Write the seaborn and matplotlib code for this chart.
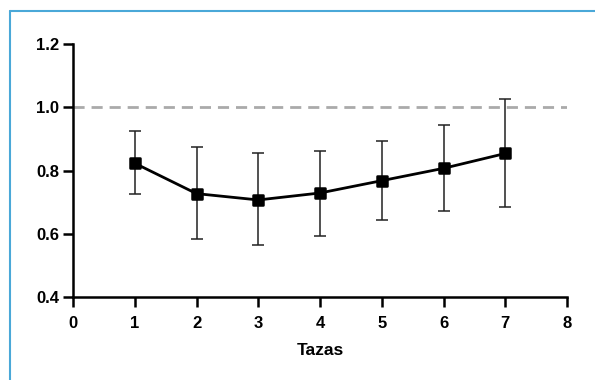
import numpy as np
import pandas as pd
import matplotlib
matplotlib.use("Agg")
import matplotlib.pyplot as plt
import seaborn as sns
from matplotlib.lines import Line2D
from matplotlib.markers import MarkerStyle

# Datos
tazas = [1, 2, 3, 4, 5, 6, 7]
media = [0.823, 0.727, 0.707, 0.729, 0.768, 0.807, 0.854]
err_sup = [0.925, 0.874, 0.855, 0.863, 0.894, 0.943, 1.025]
err_inf = [0.725, 0.584, 0.564, 0.594, 0.644, 0.673, 0.686]
referencia = 1.0
x_ticks = [0, 1, 2, 3, 4, 5, 6, 7, 8]
y_ticks = [0.4, 0.6, 0.8, 1.0, 1.2]

sns.set_theme(style="ticks")
plt.rcParams["font.family"] = ["Liberation Sans", "DejaVu Sans"]

df = pd.DataFrame({"Tazas": tazas, "Media": media})

fig = plt.figure(figsize=(5.95, 3.8), dpi=100)
ax = fig.add_axes([0.1227, 0.2184, 0.8303, 0.6656])

# Línea de referencia
ax.plot([x_ticks[0], x_ticks[-1]], [referencia, referencia], color="#aaaaaa",
        linestyle=(0, (4, 2.5)), linewidth=2, zorder=1)

# Barras de error
yerr = [np.array(media) - np.array(err_inf), np.array(err_sup) - np.array(media)]
ax.errorbar(tazas, media, yerr=yerr, fmt="none", ecolor="#222222",
            elinewidth=1.1, capsize=4.3, capthick=1.1, zorder=2)

sns.lineplot(data=df, x="Tazas", y="Media", ax=ax, color="black", linewidth=2,
             marker=MarkerStyle("s", joinstyle="round"), markersize=7,
             markeredgewidth=1.8, markeredgecolor="black", zorder=3)

ax.set_xlim(x_ticks[0], x_ticks[-1])
ax.set_ylim(y_ticks[0], y_ticks[-1])
ax.set_xticks(x_ticks)
ax.set_yticks(y_ticks)
ax.set_xticklabels([str(t) for t in x_ticks], fontweight="bold", fontsize=12, color="black")
ax.set_yticklabels([f"{t:.1f}" for t in y_ticks], fontweight="bold", fontsize=12, color="black")
ax.set_xlabel("Tazas", fontweight="bold", fontsize=12.5, labelpad=9, color="black")
ax.set_ylabel("")

for side in ["top", "right"]:
    ax.spines[side].set_visible(False)
for side in ["left", "bottom"]:
    ax.spines[side].set_linewidth(1.8)
    ax.spines[side].set_color("black")
ax.tick_params(axis="both", width=1.8, length=7.5, color="black")
ax.tick_params(axis="x", pad=6)
ax.tick_params(axis="y", pad=2.5)

# Marco azul (sólo arriba e izquierda)
fig.add_artist(Line2D([9.5 / 595, 1], [1 - 10.5 / 380, 1 - 10.5 / 380],
                      transform=fig.transFigure, color="#4aa8d8", linewidth=1.5))
fig.add_artist(Line2D([9.5 / 595, 9.5 / 595], [0, 1 - 10.5 / 380],
                      transform=fig.transFigure, color="#4aa8d8", linewidth=1.5))

fig.savefig("out.png", dpi=100)
